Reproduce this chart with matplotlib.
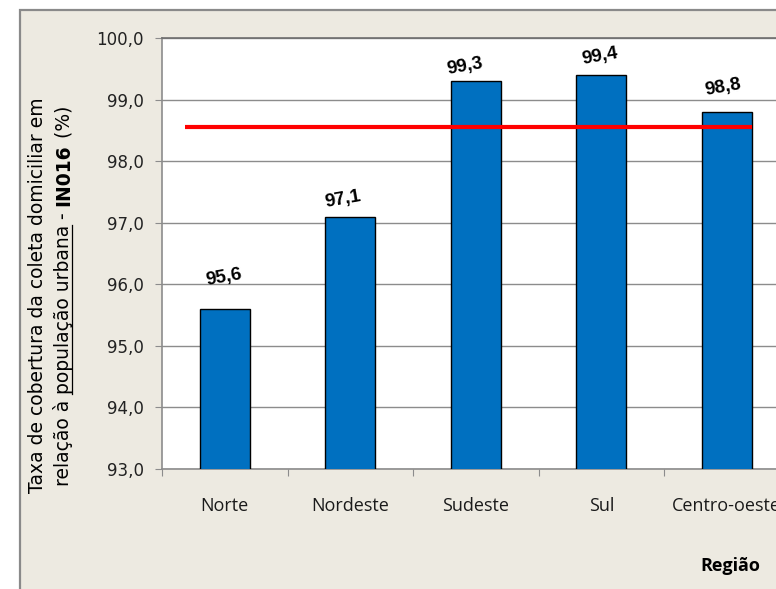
import matplotlib
matplotlib.use('Agg')
import matplotlib.pyplot as plt
from matplotlib.patches import Rectangle
from matplotlib.lines import Line2D
from matplotlib.transforms import IdentityTransform
import numpy as np

# Dados por região
regioes = ['Norte', 'Nordeste', 'Sudeste', 'Sul', 'Centro-oeste']
valores = [95.6, 97.1, 99.3, 99.4, 98.8]
rotulos = ['95,6', '97,1', '99,3', '99,4', '98,8']
media_brasil = 98.55
y_ticks = [93, 94, 95, 96, 97, 98, 99, 100]

# deslocamento dos rótulos (pixels)
rot_dx = [-1, -7, -11, -1, -4]
rot_dy = [31, 17, 15, 18, 24]

W, H = 776, 589
fig = plt.figure(figsize=(W / 100, H / 100), dpi=100)
fig.patch.set_facecolor('white')

# moldura da área do gráfico
moldura = Rectangle((20, -10), 800, H - 10 + 10, transform=IdentityTransform(),
                    facecolor='#EDEAE1', edgecolor='#8A8A8A', lw=1.6, zorder=-5)
fig.add_artist(moldura)

ax = fig.add_axes([162 / W, 120 / H, 627.5 / W, 431 / H])
ax.set_facecolor('white')

x = np.arange(len(regioes))
ax.bar(x, valores, width=0.4, color='#0070C0', edgecolor='black', linewidth=1, zorder=3)

# linha de referência
ax.hlines(media_brasil, -0.315, 4.2, color='#FF0000', lw=3, zorder=4)

for xi, v, r, dx, dy in zip(x, valores, rotulos, rot_dx, rot_dy):
    ax.annotate(r, (xi, v), xytext=(dx * 0.72, dy * 0.72), textcoords='offset points',
                ha='center', va='center', rotation=10, fontsize=13.5,
                fontweight='bold', family='Liberation Sans', zorder=5)

ax.set_ylim(93, 100)
ax.set_xlim(-0.5, 4.5)
ax.set_yticks(y_ticks)
ax.set_yticklabels([f'{t:.1f}'.replace('.', ',') for t in y_ticks],
                   fontsize=12, family='DejaVu Sans', color='#222222')
ax.yaxis.grid(True, color='#8C8C8C', lw=1, zorder=0)
ax.set_axisbelow(True)

ax.set_xticks(np.arange(-0.5, 5, 1))
ax.set_xticklabels([])
ax.set_xticks(x, minor=True)
ax.set_xticklabels(regioes, minor=True, fontsize=13, family='Open Sans', color='#1A1A1A')
ax.tick_params(axis='x', which='minor', length=0, pad=20)
ax.tick_params(axis='x', which='major', direction='out', length=5, color='#8C8C8C')
ax.tick_params(axis='y', direction='out', length=5, color='#8C8C8C', pad=8)

for s in ['left', 'bottom', 'top']:
    ax.spines[s].set_color('#8C8C8C')
    ax.spines[s].set_linewidth(1.2)
ax.spines['top'].set_color('#6E6E6E')
ax.spines['right'].set_visible(False)

fig.text(730 / W, 1 - 566 / H, 'Região', fontsize=13, fontweight='bold',
         family='Open Sans', ha='center', va='center')

# título do eixo y (duas linhas, com sublinhado e negrito)
fs_y = 13.5
fig.canvas.draw()
ren = fig.canvas.get_renderer()


def avanco(s, peso='normal'):
    # largura de avanço: mede s entre dois 'x' para incluir os espaços laterais
    t1 = fig.text(0, 0, 'x' + s + 'x', fontsize=fs_y, fontweight=peso, family='DejaVu Sans')
    t2 = fig.text(0, 0, 'xx', fontsize=fs_y, fontweight=peso, family='DejaVu Sans')
    w = t1.get_window_extent(ren).width - t2.get_window_extent(ren).width
    t1.remove()
    t2.remove()
    return w


fig.text(43, H - 295.5, 'Taxa de cobertura da coleta domiciliar em', transform=IdentityTransform(),
         fontsize=fs_y, family='DejaVu Sans', rotation=90, rotation_mode='anchor',
         ha='center', va='baseline')

partes = [('relação à ', 'normal', False), ('população urbana', 'normal', True),
          (' - ', 'normal', False), ('IN016', 'bold', False), (' (%)', 'normal', False)]
larguras = [avanco(p, w) for p, w, _ in partes]
total = sum(larguras)
base_x = 69
y0 = H - 296 - total / 2
for (p, w, sub), lw_ in zip(partes, larguras):
    fig.text(base_x, y0, p, transform=IdentityTransform(), fontsize=fs_y, fontweight=w,
             family='DejaVu Sans', rotation=90, rotation_mode='anchor',
             ha='left', va='baseline')
    if sub:
        fig.add_artist(Line2D([base_x + 2.5, base_x + 2.5], [y0, y0 + lw_],
                              transform=IdentityTransform(), color='black', lw=0.9))
    y0 += lw_

fig.savefig('out.png', dpi=100, facecolor='white')
